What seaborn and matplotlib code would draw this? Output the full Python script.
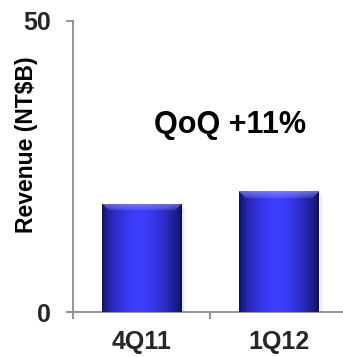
import numpy as np
import pandas as pd
import matplotlib
matplotlib.use("Agg")
import matplotlib.pyplot as plt
from matplotlib.patches import Rectangle
import seaborn as sns

# Quarterly revenue, NT$ billions
quarters = ["4Q11", "1Q12"]
revenue = [18.6, 20.7]
y_ticks = [0, 50]
qoq_label = "QoQ +11%"

sns.set_theme(style="white")
plt.rcParams["font.family"] = ["Liberation Sans", "DejaVu Sans"]

fig = plt.figure(figsize=(3.43, 3.57), dpi=100)
ax = fig.add_axes([72.75 / 343, 45 / 357, 275 / 343, 291.5 / 357])

df = pd.DataFrame({"quarter": quarters, "revenue": revenue})
sns.barplot(data=df, x="quarter", y="revenue", color="#2f2fff",
            saturation=1, width=0.575, ax=ax, zorder=2)

ax.set_xlim(-0.5, 1.5)
ax.set_ylim(0, 50)


def bevel_image(w_px, h_px):
    """Glossy blue cylinder-like fill with a lighter top bevel."""
    xs = (np.arange(w_px) + 0.5) / w_px
    # horizontal shading: dark edges, bright just left of centre
    f = np.clip(np.sin(np.pi * xs), 0, 1) ** 0.55
    f = f * (1 - 0.25 * np.clip((xs - 0.5) * 2, 0, 1))
    dark = np.array([0.04, 0.04, 0.30])
    bright = np.array([0.24, 0.24, 1.0])
    row = dark + (bright - dark) * f[:, None]
    img = np.repeat(row[None, :, :], h_px, axis=0)
    bevel = 7
    yy, xx = np.mgrid[0:h_px, 0:w_px]
    d_top = yy
    d_side = np.minimum(xx, w_px - 1 - xx)
    top = (d_top < bevel) & (d_top <= d_side)
    wgt = (1 - d_top / bevel) * 0.45 + 0.15
    light = np.array([0.62, 0.62, 1.0])
    img[top] = img[top] * (1 - wgt[top, None]) + light * wgt[top, None]
    return np.clip(img, 0, 1)


fig.canvas.draw()
for patch in list(ax.patches):
    x0, y0 = patch.get_x(), patch.get_y()
    w, h = patch.get_width(), patch.get_height()
    # soft drop shadow
    for k, a in enumerate([0.10, 0.07, 0.04]):
        ax.add_patch(Rectangle((x0 + 0.012 * (k + 1), y0 - 0.25 * (k + 1)),
                               w, h, facecolor="#555555", alpha=a,
                               edgecolor="none", zorder=1))
    bb = patch.get_window_extent()
    img = bevel_image(max(int(round(bb.width)), 2), max(int(round(bb.height)), 2))
    im = ax.imshow(img, extent=(x0, x0 + w, y0, y0 + h), aspect="auto",
                   origin="upper", zorder=3, interpolation="bilinear")
    im.set_clip_path(patch)

ax.set_xlim(-0.5, 1.5)
ax.set_ylim(0, 50)

axis_grey = "#8c8c8c"
for side in ["top", "right"]:
    ax.spines[side].set_visible(False)
for side in ["left", "bottom"]:
    ax.spines[side].set_color(axis_grey)
    ax.spines[side].set_linewidth(1.3)

ax.set_yticks(y_ticks)
ax.set_yticklabels([str(v) for v in y_ticks], fontsize=18, fontweight="bold")
ax.tick_params(axis="y", direction="out", length=5, width=1.3,
               color=axis_grey, pad=10.5, left=True)

ax.set_xticks([0, 1])
ax.set_xticklabels(quarters, fontsize=18, fontweight="bold")
ax.set_xticks([-0.5, 0.5, 1.5], minor=True)
ax.tick_params(axis="x", which="major", length=0, pad=13)
ax.tick_params(axis="x", which="minor", direction="out", length=5,
               width=1.3, color=axis_grey, bottom=True)

ax.set_xlabel("")
ax.set_ylabel("Revenue (NT$B)", fontsize=16.5, fontweight="bold", color="black")
ax.yaxis.set_label_coords(38.5 / 343, 1 - 145 / 357, transform=fig.transFigure)

ax.text(0.64, 32.0, qoq_label, fontsize=22, fontweight="bold",
        ha="center", va="center", color="black")

fig.savefig("out.png", dpi=100)
